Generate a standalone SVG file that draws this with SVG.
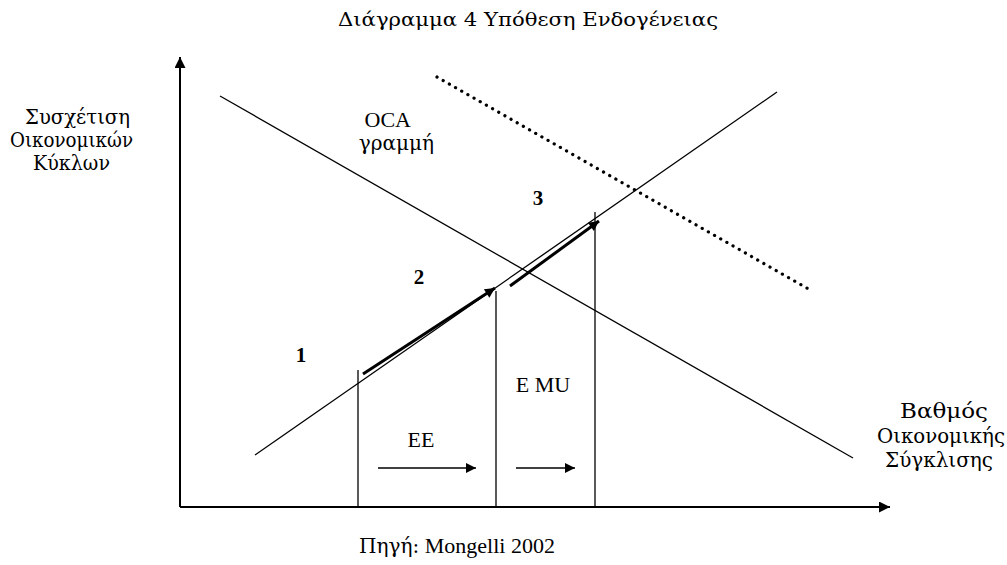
<svg xmlns="http://www.w3.org/2000/svg" width="1007" height="565" viewBox="0 0 1007 565">
<style>
text{font-family:"Liberation Serif","Times New Roman",serif;fill:#000;font-size:22px}
.g{font-family:"DejaVu Serif",serif;font-size:20px}
.c{text-anchor:middle}
.b{font-weight:bold;font-size:21px}
.ln{stroke:#000;stroke-width:1.3;fill:none}
.ax{stroke:#000;stroke-width:2;fill:none}
.th{stroke:#000;stroke-width:3;fill:none}
.dot{stroke:#000;stroke-width:3.2;fill:none;stroke-dasharray:0.1 7;stroke-linecap:round}
</style>
<defs>
<marker id="ah" viewBox="0 0 10 10" refX="10" refY="5" markerWidth="12" markerHeight="10" markerUnits="userSpaceOnUse" orient="auto"><path d="M0,0 L10,5 L0,10 z" fill="#000"/></marker>
<marker id="ah2" viewBox="0 0 10 10" refX="10" refY="5" markerWidth="13" markerHeight="11" markerUnits="userSpaceOnUse" orient="auto"><path d="M0,0 L10,5 L0,10 z" fill="#000"/></marker>
</defs>
<rect width="1007" height="565" fill="#fff"/>
<g id="title"><text class="g" x="338" y="26" style="font-size:19px" textLength="380" lengthAdjust="spacingAndGlyphs">Διάγραμμα 4 Υπόθεση Ενδογένειας</text></g>
<g id="connectors">
<line class="ax" x1="180" y1="507" x2="180" y2="57" marker-end="url(#ah2)"/>
<line class="ax" x1="180" y1="507" x2="890" y2="507" marker-end="url(#ah2)"/>
<line class="ln" x1="220" y1="96" x2="853" y2="458"/>
<line class="ln" x1="255" y1="455" x2="777" y2="92"/>
<line class="dot" x1="437" y1="77" x2="812" y2="291"/>
<line class="ln" x1="358" y1="370" x2="358" y2="507"/>
<line class="ln" x1="496" y1="291" x2="496" y2="507"/>
<line class="ln" x1="595" y1="212" x2="595" y2="507"/>
<line class="th" x1="363" y1="374" x2="495" y2="288" marker-end="url(#ah)"/>
<line class="th" x1="510" y1="286" x2="599" y2="221" marker-end="url(#ah)"/>
<line class="ln" x1="378" y1="468" x2="476" y2="468" marker-end="url(#ah)"/>
<line class="ln" x1="516" y1="468" x2="575" y2="468" marker-end="url(#ah)"/>
</g>
<g id="ylabel">
<text class="g" x="25" y="124" textLength="105" lengthAdjust="spacingAndGlyphs">Συσχέτιση</text>
<text class="g" x="10" y="147" textLength="123" lengthAdjust="spacingAndGlyphs">Οικονομικών</text>
<text class="g" x="33" y="170" textLength="77" lengthAdjust="spacingAndGlyphs">Κύκλων</text>
</g>
<g id="xlabel">
<text class="g" x="900" y="418" textLength="88" lengthAdjust="spacingAndGlyphs">Βαθμός</text>
<text class="g" x="877" y="443" textLength="128" lengthAdjust="spacingAndGlyphs">Οικονομικής</text>
<text class="g" x="885" y="467" textLength="108" lengthAdjust="spacingAndGlyphs">Σύγκλισης</text>
</g>
<g id="oca">
<text x="411" y="127" text-anchor="end">OCA</text>
<text class="g" x="434" y="150" text-anchor="end">γραμμή</text>
</g>
<g id="n1"><text class="c b" x="301" y="362">1</text></g>
<g id="n2"><text class="c b" x="419" y="284">2</text></g>
<g id="n3"><text class="c b" x="538" y="205">3</text></g>
<g id="ee"><text class="c" x="421" y="447">EE</text></g>
<g id="emu"><text class="c" x="543" y="392">E MU</text></g>
<g id="source"><text class="c" x="457" y="553"><tspan class="g">Πηγή:</tspan> Mongelli 2002</text></g>
</svg>
